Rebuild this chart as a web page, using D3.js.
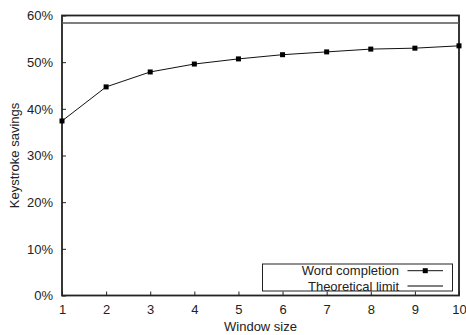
<!DOCTYPE html>
<html>
<head>
<meta charset="utf-8">
<script src="https://cdn.jsdelivr.net/npm/d3@7"></script>
<style>
  body { margin: 0; background: #fff; }
  text { font-family: "Liberation Sans", Arial, sans-serif; fill: #222; }
</style>
</head>
<body>
<svg id="chart" width="466" height="335"></svg>
<script>
// window size on x, keystroke savings (%) on y
const windowSizes = [1, 2, 3, 4, 5, 6, 7, 8, 9, 10]
const wordCompletion = [37.4, 44.7, 47.9, 49.6, 50.7, 51.6, 52.2, 52.8, 53.0, 53.5]
const theoreticalLimit = 58.4
const yTicks = [0, 10, 20, 30, 40, 50, 60]
const legendLabels = ['Word completion', 'Theoretical limit']

const svg = d3.select('#chart')
const margin = { left: 62, right: 7, top: 15.5, bottom: 39.5 }
const W = 466, H = 335
const fs = 13

const x = d3.scaleLinear().domain([1, 10]).range([margin.left, W - margin.right])
const y = d3.scaleLinear().domain([0, 60]).range([H - margin.bottom, margin.top])

// axes, ticks pointing inward
const xAxis = svg.append('g')
  .attr('transform', `translate(0,${H - margin.bottom})`)
  .call(d3.axisBottom(x).tickValues(windowSizes).tickSizeInner(-4).tickSizeOuter(0).tickPadding(9))
xAxis.select('.domain').remove()
xAxis.selectAll('line').attr('stroke', '#222')
xAxis.selectAll('text').attr('font-size', fs)

const yAxis = svg.append('g')
  .attr('transform', `translate(${margin.left},0)`)
  .call(d3.axisLeft(y).tickValues(yTicks).tickFormat(d => d + '%').tickSizeInner(-4).tickSizeOuter(0).tickPadding(9))
yAxis.select('.domain').remove()
yAxis.selectAll('line').attr('stroke', '#222')
yAxis.selectAll('text').attr('font-size', fs)

// frame
svg.append('rect')
  .attr('x', margin.left).attr('y', margin.top)
  .attr('width', W - margin.right - margin.left)
  .attr('height', H - margin.bottom - margin.top)
  .attr('fill', 'none').attr('stroke', '#222').attr('stroke-width', 1.8)

// theoretical limit
svg.append('line')
  .attr('x1', x(1)).attr('x2', x(10))
  .attr('y1', y(theoreticalLimit)).attr('y2', y(theoreticalLimit))
  .attr('stroke', '#555').attr('stroke-width', 1.6)

// word completion curve
const pts = windowSizes.map((w, i) => [w, wordCompletion[i]])
svg.append('path')
  .datum(pts)
  .attr('fill', 'none').attr('stroke', '#111').attr('stroke-width', 1)
  .attr('d', d3.line().x(d => x(d[0])).y(d => y(d[1])))

svg.append('g').selectAll('rect')
  .data(pts)
  .join('rect')
  .attr('x', d => x(d[0]) - 2.5).attr('y', d => y(d[1]) - 2.5)
  .attr('width', 5).attr('height', 5)
  .attr('fill', '#000')

// axis titles
svg.append('text')
  .attr('x', (margin.left + W - margin.right) / 2).attr('y', 331)
  .attr('text-anchor', 'middle').attr('font-size', fs)
  .text('Window size')

svg.append('text')
  .attr('transform', `translate(19,${(margin.top + H - margin.bottom) / 2}) rotate(-90)`)
  .attr('text-anchor', 'middle').attr('font-size', fs)
  .text('Keystroke savings')

// legend
const legend = svg.append('g')
legend.append('rect')
  .attr('x', 262.5).attr('y', 264)
  .attr('width', 190).attr('height', 27)
  .attr('fill', '#fff').attr('stroke', '#222').attr('stroke-width', 1)

legendLabels.forEach((label, i) => {
  const cy = 270.7 + i * 15.3
  legend.append('text')
    .attr('x', 399).attr('y', cy + 4.6)
    .attr('text-anchor', 'end').attr('font-size', fs)
    .text(label)
  legend.append('line')
    .attr('x1', 407.5).attr('x2', 443)
    .attr('y1', cy).attr('y2', cy)
    .attr('stroke', i === 0 ? '#111' : '#555').attr('stroke-width', i === 0 ? 1 : 1.3)
  if (i === 0) {
    legend.append('rect')
      .attr('x', 425.25 - 2.5).attr('y', cy - 2.5)
      .attr('width', 5).attr('height', 5).attr('fill', '#000')
  }
})
</script>
</body>
</html>
